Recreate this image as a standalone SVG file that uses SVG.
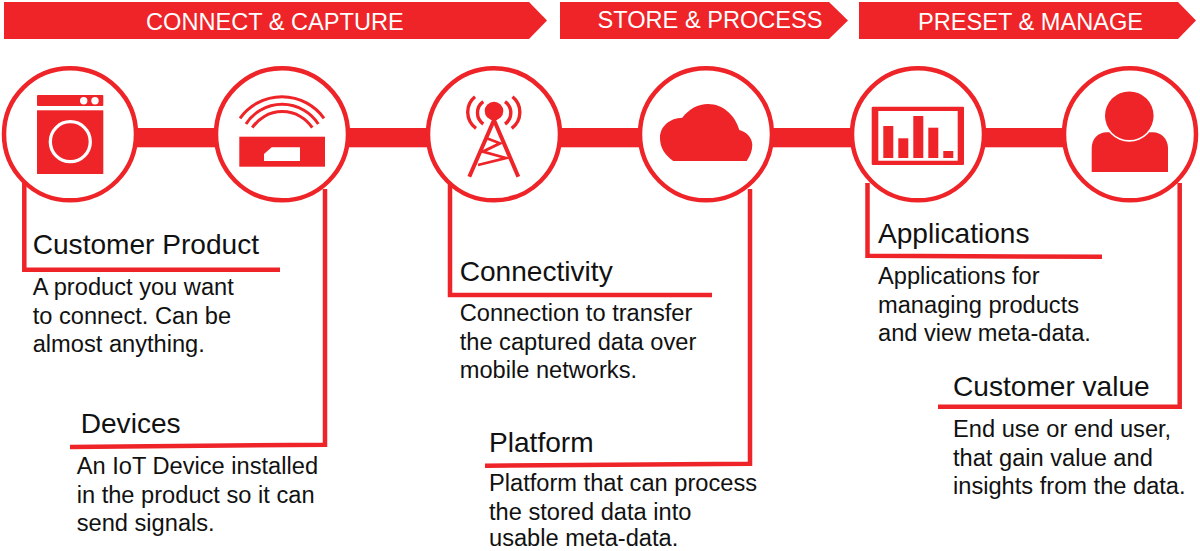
<svg xmlns="http://www.w3.org/2000/svg" width="1200" height="551" viewBox="0 0 1200 551">
<style>
.r{fill:#ee2428}
.c{fill:#fff;stroke:#ee2428;stroke-width:4.500}
.l{fill:none;stroke:#ee2428;stroke-width:4.500}
.w{fill:none;stroke:#ee2428}
text{font-family:"Liberation Sans",Arial,sans-serif}
.b{font-size:23.600px;fill:#fff}
.h{font-size:28.100px;fill:#111}
.t{font-size:23.650px;fill:#111}
</style>
<rect width="1200" height="551" fill="#fff"/>
<g id="banners">
<polygon class="r" points="4,2 529,2 547,20.500 529,39 4,39"/>
<polygon class="r" points="560,2 829,2 848,20.500 829,39 560,39"/>
<polygon class="r" points="859,2 1178,2 1196,20.500 1178,39 859,39"/>
<text class="b" x="146" y="29.500">CONNECT &amp; CAPTURE</text>
<text class="b" x="597.500" y="27.500">STORE &amp; PROCESS</text>
<text class="b" x="918" y="29.500">PRESET &amp; MANAGE</text>
</g>
<g id="connectors">
<rect class="r" x="130" y="128" width="950" height="19.300"/>
<path class="l" d="M24.300 183V269.700H280"/>
<path class="l" d="M325 189V444.700L70 447"/>
<path class="l" d="M450 183V295H712"/>
<path class="l" d="M750 189V463.800L485 465.700"/>
<path class="l" d="M867.500 183V255.700L1102 256.800"/>
<path class="l" d="M1179.700 183V406.800H938"/>
</g>
<g id="node-product">
<circle class="c" cx="70" cy="134.300" r="66"/>
<rect class="r" x="37" y="95" width="66.300" height="11" rx="1"/>
<rect class="r" x="37" y="110.300" width="66.300" height="63.700"/>
<circle cx="83.700" cy="100.700" r="3.700" fill="#fff"/><circle cx="95" cy="100.700" r="3.700" fill="#fff"/>
<circle cx="70.300" cy="141.700" r="20" fill="none" stroke="#fff" stroke-width="3.300"/>
</g>
<g id="node-device">
<circle class="c" cx="282" cy="134.300" r="66"/>
<path class="w" stroke-width="3" d="M240 118.300A51.600 51.600 0 0 1 324 118.300M246 124A43 43 0 0 1 318.300 124M252.300 127.700A36 36 0 0 1 312.300 127.700"/>
<rect class="r" x="239.300" y="136.700" width="85.700" height="30"/>
<polygon points="264,154 271.700,147.300 300,147.300 300,161 264,161" fill="#fff"/>
</g>
<g id="node-tower">
<circle class="c" cx="494" cy="134.300" r="66"/>
<circle class="r" cx="494" cy="111" r="9.300"/>
<path class="w" stroke-width="3.400" d="M475 96.700A20 20 0 0 0 476 128.300M512.500 96.700A20 20 0 0 1 511.700 128.300"/>
<path class="w" stroke-width="3.400" d="M483.300 101.700A13.600 13.600 0 0 0 483.300 124M505 101.700A13.600 13.600 0 0 1 505 124"/>
<path class="w" stroke-width="4" d="M494 120L469.300 176.700M494 120L518.300 176.700"/>
<path class="w" stroke-width="2.800" d="M486.700 138.300L500 143.300L482.700 151.700L506 158L478 165"/>
</g>
<g id="node-cloud">
<circle class="c" cx="706" cy="134.300" r="66"/>
<path class="r" d="M673.300 161C665 155 660 148 660 138C660 126 670 118 682.300 117.700C689 109 698 104 708 104C723 104 735 115 739.300 130C747 132 752.300 138 752.300 145C752.300 151 750 156 746.700 161Z"/>
</g>
<g id="node-apps">
<circle class="c" cx="918" cy="134.300" r="66"/>
<path class="r" fill-rule="evenodd" d="M873 106.700H963A1 1 0 0 1 964 107.700V164A1 1 0 0 1 963 165H873A1.300 1.300 0 0 1 871.700 164V107.700A1.300 1.300 0 0 1 873 106.700ZM878.300 111V160.700H957.700V111Z"/>
<rect class="r" x="883.300" y="126" width="10" height="32"/>
<rect class="r" x="898.300" y="138.300" width="10" height="19.700"/>
<rect class="r" x="913.300" y="116" width="10" height="42"/>
<rect class="r" x="928.300" y="127.700" width="10" height="30.300"/>
<rect class="r" x="943.300" y="151" width="10" height="7"/>
</g>
<g id="node-user">
<circle class="c" cx="1130" cy="134.300" r="66"/>
<path class="r" d="M1091.700 172V148C1091.700 139 1098 132.300 1107 132.300H1153C1161 132.300 1168 139 1168 148V172Z"/>
<circle cx="1129.300" cy="115.700" r="26" fill="#fff"/>
<circle class="r" cx="1129.300" cy="115.700" r="24.300"/>
</g>
<g id="labels">
<text class="h" x="32.700" y="254">Customer Product</text>
<text class="t" x="32.700" y="295">A product you want</text>
<text class="t" x="32.700" y="324">to connect. Can be</text>
<text class="t" x="32.700" y="352">almost anything.</text>
<text class="h" x="80.700" y="433">Devices</text>
<text class="t" x="76.700" y="474">An IoT Device installed</text>
<text class="t" x="76.700" y="503">in the product so it can</text>
<text class="t" x="76.700" y="531">send signals.</text>
<text class="h" x="459.700" y="281">Connectivity</text>
<text class="t" x="459.700" y="321">Connection to transfer</text>
<text class="t" x="459.700" y="350">the captured data over</text>
<text class="t" x="459.700" y="378">mobile networks.</text>
<text class="h" x="489" y="452">Platform</text>
<text class="t" x="489" y="491">Platform that can process</text>
<text class="t" x="489" y="520">the stored data into</text>
<text class="t" x="489" y="546">usable meta-data.</text>
<text class="h" x="878" y="243">Applications</text>
<text class="t" x="878" y="284">Applications for</text>
<text class="t" x="878" y="313">managing products</text>
<text class="t" x="878" y="341">and view meta-data.</text>
<text class="h" x="953" y="396">Customer value</text>
<text class="t" x="953" y="437">End use or end user,</text>
<text class="t" x="953" y="466">that gain value and</text>
<text class="t" x="953" y="494">insights from the data.</text>
</g>
</svg>
